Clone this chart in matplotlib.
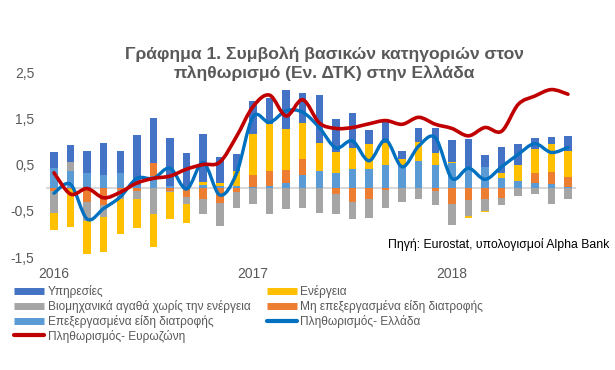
import numpy as np
import matplotlib
matplotlib.use("Agg")
import matplotlib.pyplot as plt
from matplotlib.path import Path
from matplotlib.patches import PathPatch
from matplotlib.lines import Line2D

plt.rcParams["font.family"] = ["Liberation Sans", "DejaVu Sans"]

# μηνιαία στοιχεία Ιαν 2016 - Αυγ 2018
months = np.arange(32)
year_ticks = [0, 12, 24]
year_labels = ["2016", "2017", "2018"]

services = [0.33, 0.38, 0.47, 0.69, 0.47, 1.08, 0.96, 1.03, 0.74, 1.04, 0.55, 0.37,
            0.71, 0.56, 0.84, 0.65, 1.04, 0.70, 0.76, 0.30, 0.47, 0.17, 0.30, 0.55,
            0.48, 0.60, 0.26, 0.56, 0.45, 0.25, 0.16, 0.33]
energy = [-0.37, -0.83, -0.72, -0.77, -0.75, -0.63, -0.70, -0.58, -0.42, 0.07, 0.07, 0.32,
          0.89, 1.02, 0.88, 0.79, 0.62, 0.46, 0.45, 0.55, 0.49, 0.12, 0.40, 0.25,
          0.01, -0.04, -0.02, 0.12, 0.35, 0.51, 0.60, 0.55]
industrial = [-0.47, 0.19, -0.40, -0.26, -0.20, -0.18, -0.58, -0.02, -0.15, -0.32, -0.48, -0.34,
              -0.36, -0.58, -0.47, -0.43, -0.54, -0.45, -0.36, -0.41, -0.38, -0.32, -0.25, -0.31,
              -0.46, -0.34, -0.25, -0.16, -0.18, -0.13, -0.36, -0.25]
unprocessed = [-0.07, -0.03, -0.32, -0.37, -0.05, -0.07, 0.29, -0.07, -0.20, -0.24, -0.34, -0.10,
               0.26, 0.31, 0.30, 0.34, 0.00, -0.13, -0.32, -0.25, -0.05, 0.00, 0.00, -0.07,
               -0.35, -0.27, -0.25, -0.22, 0.00, 0.21, 0.27, 0.22]
processed = [0.43, 0.36, 0.32, 0.27, 0.32, 0.05, 0.25, 0.04, 0.00, 0.05, 0.04, 0.03,
             0.02, 0.04, 0.09, 0.27, 0.35, 0.32, 0.40, 0.40, 0.48, 0.50, 0.58, 0.50,
             0.54, 0.45, 0.45, 0.20, 0.14, 0.11, 0.07, 0.02]
infl_gr = [-0.12, 0.07, -0.68, -0.45, -0.20, 0.20, 0.20, 0.42, -0.03, 0.54, -0.16, 0.30,
           1.53, 1.41, 1.66, 1.63, 1.30, 0.86, 1.01, 0.58, 1.03, 0.45, 0.90, 1.08,
           0.20, 0.42, 0.18, 0.45, 0.72, 0.95, 0.76, 0.87]
infl_ez = [0.32, -0.14, -0.02, -0.22, -0.10, 0.10, 0.20, 0.25, 0.40, 0.50, 0.55, 1.10,
           1.75, 2.00, 1.55, 1.90, 1.40, 1.28, 1.30, 1.38, 1.45, 1.37, 1.52, 1.37,
           1.28, 1.12, 1.30, 1.22, 1.80, 1.98, 2.12, 2.02]

# σειρά στοίβαξης από το μηδέν προς τα έξω
stack = [
    ("Επεξεργασμένα είδη διατροφής", processed, "#5B9BD5"),
    ("Μη επεξεργασμένα είδη διατροφής", unprocessed, "#ED7D31"),
    ("Βιομηχανικά αγαθά χωρίς την ενέργεια", industrial, "#A5A5A5"),
    ("Ενέργεια", energy, "#FFC000"),
    ("Υπηρεσίες", services, "#4472C4"),
]
C_GR = "#0070C0"
C_EZ = "#C00000"
TXT = "#595959"


def smooth_path(x, y):
    # καμπύλη τύπου Excel (Catmull-Rom σε Bezier)
    pts = np.column_stack([x, y]).astype(float)
    p = np.vstack([pts[0], pts, pts[-1]])
    verts, codes = [pts[0]], [Path.MOVETO]
    for i in range(1, len(p) - 2):
        p0, p1, p2, p3 = p[i - 1], p[i], p[i + 1], p[i + 2]
        verts += [p1 + (p2 - p0) / 6, p2 - (p3 - p1) / 6, p2]
        codes += [Path.CURVE4] * 3
    return Path(verts, codes)


fig = plt.figure(figsize=(6.15, 3.7), dpi=100)
ax = fig.add_axes([0.0743, 0.3054, 0.8627, 0.5])

ax.axhline(0, color="#D9D9D9", lw=1.5, zorder=1)

pos = np.zeros(len(months))
neg = np.zeros(len(months))
for name, vals, col in stack:
    v = np.array(vals)
    bottom = np.where(v >= 0, pos, neg)
    ax.bar(months, v, 0.45, bottom=bottom, color=col, zorder=2, linewidth=0)
    pos += np.where(v >= 0, v, 0)
    neg += np.where(v < 0, v, 0)

ax.add_patch(PathPatch(smooth_path(months, infl_gr), fill=False, ec=C_GR, lw=2.4,
                       capstyle="round", zorder=3))
ax.add_patch(PathPatch(smooth_path(months, infl_ez), fill=False, ec=C_EZ, lw=2.6,
                       capstyle="round", zorder=4))

ax.set_xlim(-0.5, 31.5)
ax.set_ylim(-1.5, 2.5)
ax.set_yticks([-1.5, -0.5, 0.5, 1.5, 2.5])
ax.set_yticklabels(["-1,5", "-0,5", "0,5", "1,5", "2,5"])
ax.set_xticks(year_ticks)
ax.set_xticklabels(year_labels)
ax.tick_params(length=0, labelsize=10, colors=TXT)
ax.tick_params(axis="x", pad=7)
ax.tick_params(axis="y", pad=8)
for s in ax.spines.values():
    s.set_visible(False)

fig.text(0.527, 0.828, "Γράφημα 1. Συμβολή βασικών κατηγοριών στον\nπληθωρισμό (Εν. ΔΤΚ) στην Ελλάδα",
         ha="center", va="center", fontsize=12.6, fontweight="bold", color=TXT, linespacing=1.25)
fig.text(0.631, 0.338, "Πηγή: Eurostat, υπολογισμοί Alpha Bank", ha="left", va="center",
         fontsize=8.8, color="black")

bar_cols = {name: col for name, _, col in stack}
left = [
    (Line2D([], [], color=bar_cols["Υπηρεσίες"], lw=5, solid_capstyle="butt"), "Υπηρεσίες"),
    (Line2D([], [], color=bar_cols["Βιομηχανικά αγαθά χωρίς την ενέργεια"], lw=5, solid_capstyle="butt"),
     "Βιομηχανικά αγαθά χωρίς την ενέργεια"),
    (Line2D([], [], color=bar_cols["Επεξεργασμένα είδη διατροφής"], lw=5, solid_capstyle="butt"),
     "Επεξεργασμένα είδη διατροφής"),
    (Line2D([], [], color=C_EZ, lw=3, solid_capstyle="round"), "Πληθωρισμός- Ευρωζώνη"),
]
right = [
    (Line2D([], [], color=bar_cols["Ενέργεια"], lw=5, solid_capstyle="butt"), "Ενέργεια"),
    (Line2D([], [], color=bar_cols["Μη επεξεργασμένα είδη διατροφής"], lw=5, solid_capstyle="butt"),
     "Μη επεξεργασμένα είδη διατροφής"),
    (Line2D([], [], color=C_GR, lw=3, solid_capstyle="round"), "Πληθωρισμός- Ελλάδα"),
]
for items, xpos in ((left, 0.023), (right, 0.434)):
    leg = fig.legend([h for h, _ in items], [l for _, l in items], loc="upper left",
                     bbox_to_anchor=(xpos, 0.23), frameon=False, fontsize=8.6,
                     borderpad=0, borderaxespad=0, handlelength=2.5, handletextpad=0.3,
                     labelspacing=0.16)
    for t in leg.get_texts():
        t.set_color(TXT)

fig.savefig("out.png", dpi=100)
